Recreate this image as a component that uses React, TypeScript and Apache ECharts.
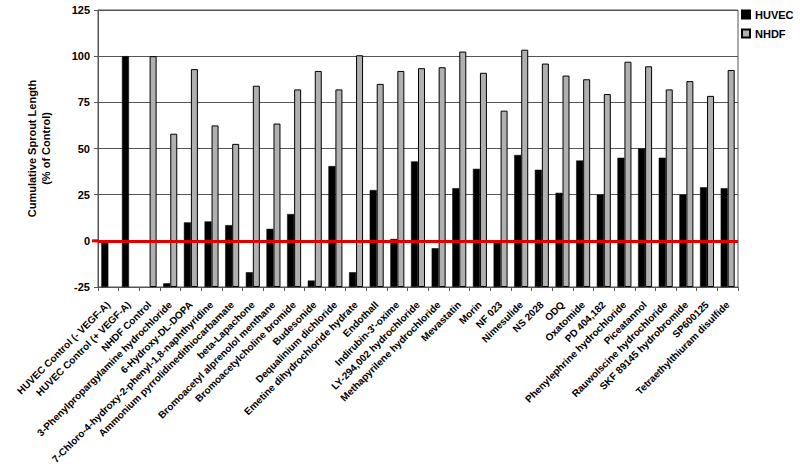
import React, { useEffect, useRef } from "react";
import * as echarts from "echarts";

const categories = [
  "HUVEC Control (- VEGF-A)",
  "HUVEC Control (+ VEGF-A)",
  "NHDF Control",
  "3-Phenylpropargylamine hydrochloride",
  "6-Hydroxy-DL-DOPA",
  "7-Chloro-4-hydroxy-2-phenyl-1,8-naphthyridine",
  "Ammonium pyrrolidinedithiocarbamate",
  "beta-Lapachone",
  "Bromoacetyl alprenolol menthane",
  "Bromoacetylcholine bromide",
  "Budesonide",
  "Dequalinium dichloride",
  "Emetine dihydrochloride hydrate",
  "Endothall",
  "Indirubin-3'-oxime",
  "LY-294,002 hydrochloride",
  "Methapyrilene hydrochloride",
  "Mevastatin",
  "Morin",
  "NF 023",
  "Nimesulide",
  "NS 2028",
  "ODQ",
  "Oxatomide",
  "PD 404,182",
  "Phenylephrine hydrochloride",
  "Piceatannol",
  "Rauwolscine hydrochloride",
  "SKF 89145 hydrobromide",
  "SP600125",
  "Tetraethylthiuram disulfide",
];

const huvec: (number | null)[] = [
  0, 100, null, -23, 10, 10.5, 8.5, -17, 6.5, 14.5, -21.5, 40.5, -17, 27.5, 1,
  43, -4, 28.5, 39, -0.5, 46.5, 38.5, 26, 43.5, 25, 45, 50, 45, 25, 29, 28.5,
];

const nhdf: (number | null)[] = [
  null, null, 100, 58, 93, 62.5, 52.5, 84, 63.5, 82, 92, 82, 100.5, 85, 92,
  93.5, 94, 102.5, 91, 70.5, 103.5, 96, 89.5, 87.5, 79.5, 97, 94.5, 82, 86.5,
  78.5, 92.5,
];

const AXIS_MIN = -25;
const AXIS_MAX = 125;
const AXIS_STEP = 25;
const REFERENCE_VALUE = 0;

const shift = (v: number | null) => (v === null ? "-" : v - AXIS_MIN);

export default function App() {
  const ref = useRef<HTMLDivElement>(null);

  useEffect(() => {
    if (!ref.current) return;
    const chart = echarts.init(ref.current, undefined, { renderer: "svg" });
    const font = "'Liberation Sans', Arial, sans-serif";
    const GRID_LEFT = 98;
    chart.setOption({
      animation: false,
      textStyle: { fontFamily: font },
      legend: {
        orient: "vertical",
        left: 741,
        top: 9,
        padding: 0,
        itemWidth: 8,
        itemHeight: 8,
        itemGap: 8,
        textStyle: { fontFamily: font, fontWeight: "bold", fontSize: 11, color: "#000" },
        data: [
          { name: "HUVEC", icon: "rect" },
          { name: "NHDF", icon: "rect" },
        ],
      },
      grid: {
        left: GRID_LEFT,
        right: 62,
        top: 10,
        bottom: 186,
        show: true,
        borderColor: "#555",
        borderWidth: 1,
      },
      xAxis: {
        type: "category",
        data: categories,
        axisLine: { lineStyle: { color: "#555", width: 1 } },
        axisTick: { show: true, length: 4, lineStyle: { color: "#555" } },
        axisLabel: {
          rotate: 45,
          interval: 0,
          margin: 16,
          fontFamily: font,
          fontWeight: "bold",
          fontSize: 10,
          color: "#000",
        },
      },
      yAxis: {
        type: "value",
        min: 0,
        max: AXIS_MAX - AXIS_MIN,
        interval: AXIS_STEP,
        name: "Cumulative Sprout Length\n(% of Control)",
        nameLocation: "middle",
        nameGap: 45,
        nameTextStyle: {
          fontFamily: font,
          fontWeight: "bold",
          fontSize: 11,
          color: "#000",
          lineHeight: 14,
        },
        axisLine: { show: true, lineStyle: { color: "#555" } },
        axisTick: { show: true, length: 4, lineStyle: { color: "#555" } },
        axisLabel: {
          fontFamily: font,
          fontWeight: "bold",
          fontSize: 11,
          color: "#000",
          margin: 8,
          formatter: (v: number) => String(v + AXIS_MIN),
        },
        splitLine: { show: true, lineStyle: { color: "#555", width: 1 } },
      },
      series: [
        {
          name: "HUVEC",
          type: "bar",
          data: huvec.map(shift),
          barWidth: 7,
          barGap: "0%",
          itemStyle: { color: "#000", borderColor: "#000", borderWidth: 0.5 },
          markLine: {
            silent: true,
            symbol: "none",
            label: { show: false },
            lineStyle: { color: "#e00000", width: 3, type: "solid" },
            data: [{ yAxis: REFERENCE_VALUE - AXIS_MIN }],
            z: 5,
          },
          z: 2,
        },
        {
          name: "NHDF",
          type: "bar",
          data: nhdf.map(shift),
          barWidth: 7,
          barGap: "0%",
          itemStyle: { color: "#b0b0b0", borderColor: "#000", borderWidth: 1 },
          z: 2,
        },
      ],
    });
    const y0 = chart.convertToPixel({ yAxisIndex: 0 }, REFERENCE_VALUE - AXIS_MIN) as number;
    chart.setOption({
      graphic: [
        {
          type: "line",
          silent: true,
          z: 10,
          shape: { x1: GRID_LEFT - 6, y1: y0, x2: GRID_LEFT + 1, y2: y0 },
          style: { stroke: "#e00000", lineWidth: 3 },
        },
      ],
    });
    return () => chart.dispose();
  }, []);

  return (
    <div
      ref={ref}
      style={{ position: "absolute", left: 0, top: 0, width: 800, height: 473, background: "#fff" }}
    />
  );
}
